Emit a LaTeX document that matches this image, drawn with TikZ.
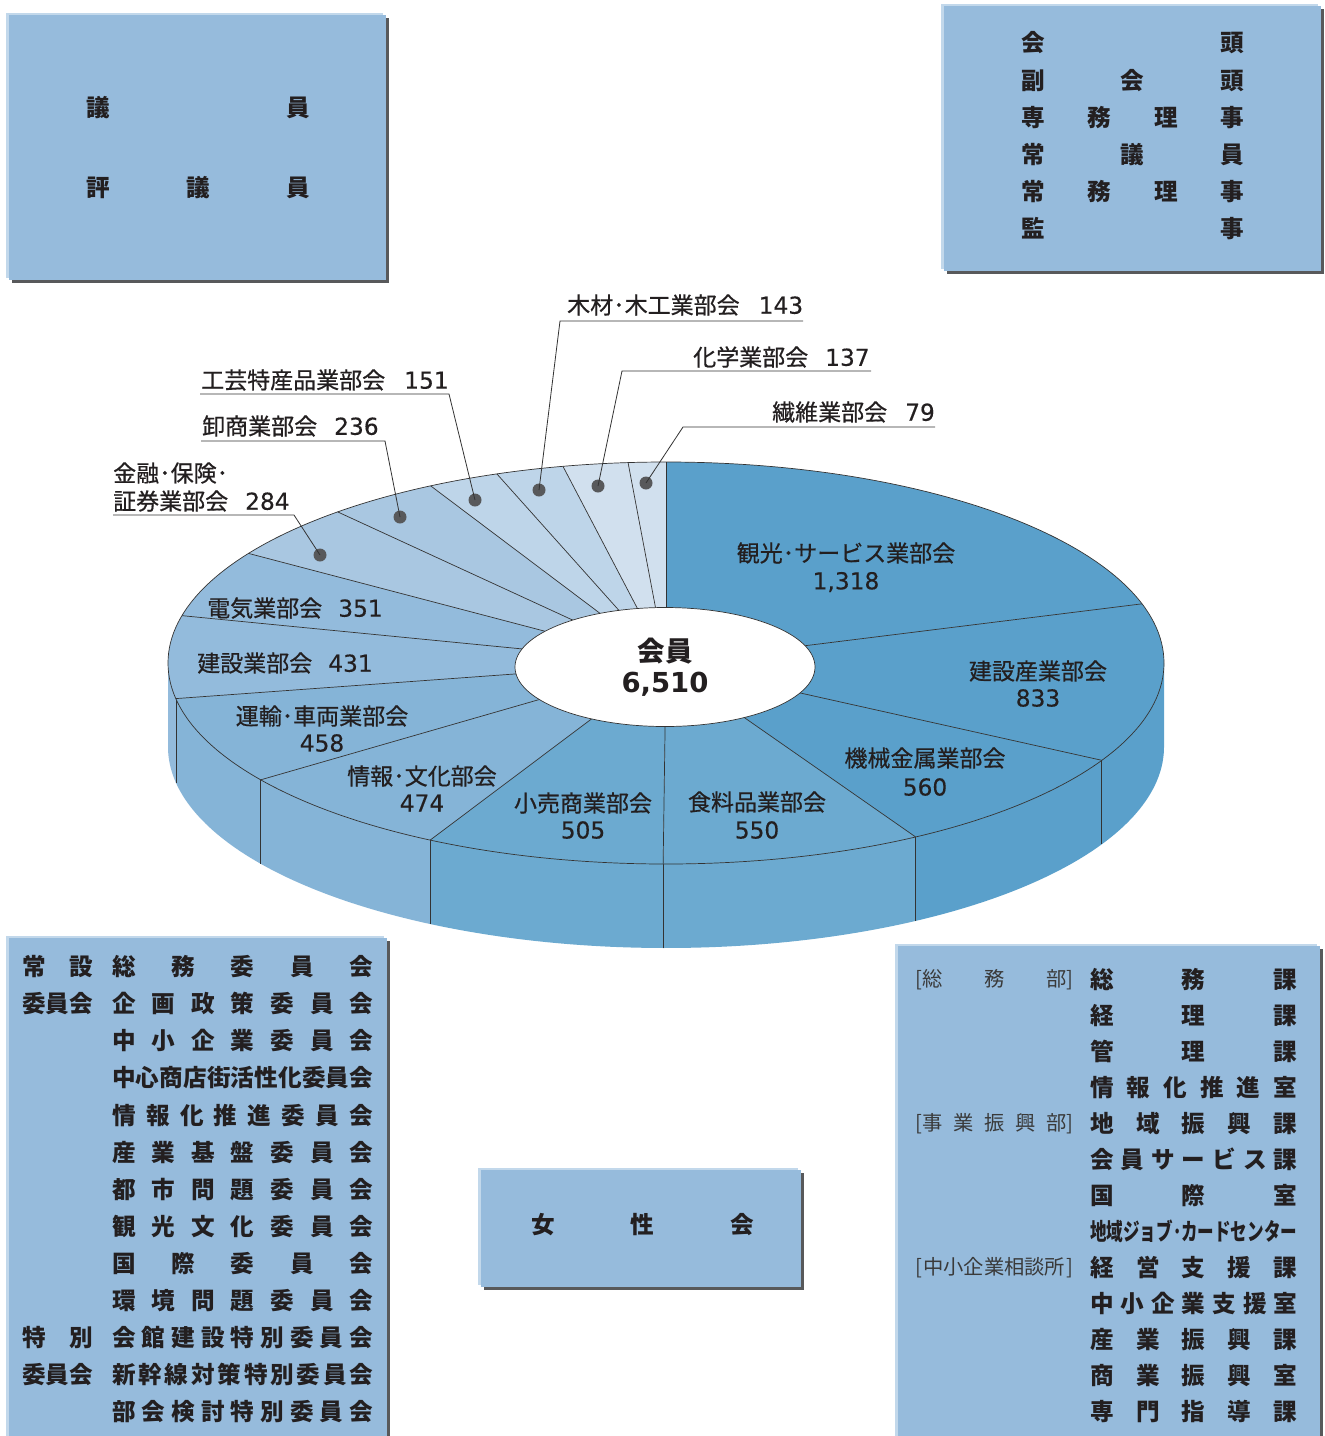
\documentclass[tikz,border=0pt]{standalone}
\usepackage{fontspec}
\usepackage{graphicx}
\usetikzlibrary{shapes.geometric}
\setmainfont{Noto Sans CJK JP}
\newfontfamily\jpm{Noto Sans CJK JP}[FakeBold=0.6]
\newfontfamily\numf{DejaVu Sans}[FakeBold=0.3]
\newfontfamily\numb{DejaVu Sans Bold}
\definecolor{boxfill}{HTML}{96BBDC}
\definecolor{boxlight}{HTML}{C2D8EB}
\definecolor{boxshadow}{HTML}{58595B}
\definecolor{cA}{HTML}{5AA0CB}
\definecolor{cB}{HTML}{6CAAD0}
\definecolor{cC}{HTML}{85B4D7}
\definecolor{cD}{HTML}{93BBDC}
\definecolor{cE}{HTML}{A9C7E1}
\definecolor{cF}{HTML}{BED5E9}
\definecolor{cG}{HTML}{D1E0EE}
\definecolor{txtc}{HTML}{231F20}
\definecolor{linec}{HTML}{333333}
\definecolor{dotc}{HTML}{58595B}
\definecolor{brc}{HTML}{3A3A3A}
\makeatletter
\def\spr@end{\spr@end}
\def\spr@loop#1{\ifx#1\spr@end\else\hfill#1\expandafter\spr@loop\fi}
\def\spr@first#1{#1\spr@loop}
\newcommand\spread[2]{\hbox to #1{\expandafter\spr@first#2\spr@end}}
\makeatother
\newcommand\lf{\jpm\fontsize{23}{26}\selectfont}
\newcommand\nf{\numf\fontsize{23.3}{26}\selectfont}
\newcommand\bxf{\bfseries\fontsize{23.6}{26}\selectfont}
\newcommand\brf{\fontsize{20.3}{24}\selectfont\color{brc}}
\newcommand\panel[4]{%
  \fill[boxshadow] ({#1+2.5},{#2+3}) rectangle ({#3+2.5},{#4+3});
  \fill[boxlight] ({#1-3},{#2-2.5}) rectangle ({#3-3},{#4-2.5});
  \fill[boxfill] (#1,#2) rectangle (#3,#4);}
\begin{document}
\begin{tikzpicture}[x=1pt,y=-1pt,
  tx/.style={inner sep=0pt,text=txtc},
  rimline/.style={draw=linec,line width=0.7pt},
  leader/.style={draw=linec,line width=0.8pt},
  dotn/.style={circle,fill=dotc,inner sep=0pt,minimum size=13pt}]
\useasboundingbox (0,0) rectangle (1325,1436);
\fill[white] (0,0) rectangle (1325,1436);
\def\cx{666}\def\cy{663}\def\rx{498}\def\ry{201}\def\hh{84}
% ---------- panels ----------
\panel{9}{15}{386}{280}
\panel{944}{6}{1321}{271}
\panel{9}{938}{387}{1445}
\panel{481}{1170}{801}{1287}
\panel{898}{946}{1320}{1445}
% panel 1
\node[tx,anchor=west] (p1a) at (86,108) {\bxf\spread{223.5pt}{議員}};
\node[tx,anchor=west] (p1b) at (86,188) {\bxf\spread{223.5pt}{評議員}};
% panel 2
\foreach \i/\t in {0/会頭,1/副会頭,2/専務理事,3/常議員,4/常務理事,5/監事}
  \node[tx,anchor=west] (p2-\i) at (1021,{43+37.2*\i}) {\bxf\spread{223pt}{\t}};
% panel 3
\foreach \i/\t in {0/総務委員会,1/企画政策委員会,2/中小企業委員会,3/中心商店街活性化委員会,4/情報化推進委員会,5/産業基盤委員会,6/都市問題委員会,7/観光文化委員会,8/国際委員会,9/環境問題委員会,10/会館建設特別委員会,11/新幹線対策特別委員会,12/部会検討特別委員会}
  \node[tx,anchor=west] (p3r-\i) at (112,{966.7+37.08*\i}) {\bxf\spread{261pt}{\t}};
\foreach \i/\t in {0/常設,1/委員会,10/特別,11/委員会}
  \node[tx,anchor=west] (p3l-\i) at (22,{966.7+37.08*\i}) {\bxf\spread{71pt}{\t}};
% panel 4
\node[tx,anchor=west] (p4) at (531,1225) {\bxf\spread{223pt}{女性会}};
% panel 5
\foreach \i/\t in {0/総務課,1/経理課,2/管理課,3/情報化推進室,4/地域振興課,5/会員サービス課,6/国際室,8/経営支援課,9/中小企業支援室,10/産業振興課,11/商業振興室,12/専門指導課}
  \node[tx,anchor=west] (p5r-\i) at (1090,{980+35.96*\i}) {\bxf\spread{207pt}{\t}};
\node[tx,anchor=west] (p5r-7) at (1090,{980+35.96*7}) {\resizebox{207pt}{\height}{\bxf 地域ジョブ･カードセンター}};
\node[tx,anchor=west] (p5l-0) at (915,980) {\brf\hbox to 158pt{[総\hfill 務\hfill 部]}};
\node[tx,anchor=west] (p5l-4) at (915,{980+35.96*4}) {\brf\hbox to 158pt{[事\hfill 業\hfill 振\hfill 興\hfill 部]}};
\node[tx,anchor=west] (p5l-8) at (915,{980+35.96*8}) {\brf\hbox to 158pt{[\hfil 中小企業相談所\hfil]}};
% ---------- pie: side walls ----------
\foreach \sa/\sb/\col in {90/118.95/cA,118.95/149.92/cA,149.92/180.33/cB,180.33/208.26/cB,208.26/234.47/cC,234.47/259.80/cC,259.80/270/cD}
  \fill[\col] plot[domain=\sa:\sb,samples=30] ({\cx+\rx*sin(\x)},{\cy-\ry*cos(\x)})
     -- plot[domain=\sb:\sa,samples=30] ({\cx+\rx*sin(\x)},{\cy+\hh-\ry*cos(\x)}) -- cycle;
\foreach \tt in {118.95,149.92,180.33,208.26,234.47,259.80}
  \draw[rimline] ({\cx+\rx*sin(\tt)},{\cy-\ry*cos(\tt)}) -- ++(0,\hh);
% ---------- pie: top wedges ----------
\foreach \sa/\sb/\col in {0/72.88/cA,72.88/118.95/cA,118.95/149.92/cA,149.92/180.33/cB,180.33/208.26/cB,208.26/234.47/cC,234.47/259.80/cC,259.80/283.63/cD,283.63/303.04/cD,303.04/318.75/cE,318.75/331.80/cE,331.80/340.15/cF,340.15/348.06/cF,348.06/355.63/cG,355.63/360/cG}
  \fill[\col] (\cx,\cy) -- plot[domain=\sa:\sb,samples=40] ({\cx+\rx*sin(\x)},{\cy-\ry*cos(\x)}) -- cycle;
\foreach \tt in {0,72.88,118.95,149.92,180.33,208.26,234.47,259.80,283.63,303.04,318.75,331.80,340.15,348.06,355.63}
  \draw[rimline] (\cx,\cy) -- ({\cx+\rx*sin(\tt)},{\cy-\ry*cos(\tt)});
\draw[rimline] (\cx,\cy) ellipse [x radius=498pt, y radius=201pt];
\node[draw=linec,line width=0.7pt,fill=white,ellipse,inner sep=0pt,minimum width=300pt,minimum height=119pt] (hole) at (665,667) {};
% ---------- center ----------
\node[tx] (cm1) at (665,651) {\bfseries\fontsize{27.5}{30}\selectfont 会員};
\node[tx] (cm2) at (665,684) {\numb\fontsize{27.5}{30}\selectfont 6,510};
% ---------- slice labels ----------
\node[tx] (l1) at (846,553) {\lf 観光･サービス業部会};
\node[tx] (n1) at (846,582) {\nf 1,318};
\node[tx] (l2) at (1038,671) {\lf 建設産業部会};
\node[tx] (n2) at (1038,698) {\nf 833};
\node[tx] (l3) at (925,758) {\lf 機械金属業部会};
\node[tx] (n3) at (925,787) {\nf 560};
\node[tx] (l4) at (757,802) {\lf 食料品業部会};
\node[tx] (n4) at (757,830) {\nf 550};
\node[tx] (l5) at (583,803) {\lf 小売商業部会};
\node[tx] (n5) at (583,830) {\nf 505};
\node[tx] (l6) at (422,776) {\lf 情報･文化部会};
\node[tx] (n6) at (422,803) {\nf 474};
\node[tx] (l7) at (322,716) {\lf 運輸･車両業部会};
\node[tx] (n7) at (322,743) {\nf 458};
\node[tx] (l8) at (285,663) {\lf 建設業部会\hspace{16pt}\nf 431};
\node[tx] (l9) at (295,608) {\lf 電気業部会\hspace{16pt}\nf 351};
% ---------- outside labels ----------
\node[tx,anchor=west] (o1) at (567,305) {\lf 木材･木工業部会\hspace{19pt}\nf 143};
\node[tx,anchor=west] (o2) at (693,357) {\lf 化学業部会\hspace{17pt}\nf 137};
\node[tx,anchor=west] (o3) at (772,412) {\lf 繊維業部会\hspace{18pt}\nf 79};
\node[tx,anchor=west] (o4) at (201,380) {\lf 工芸特産品業部会\hspace{19pt}\nf 151};
\node[tx,anchor=west] (o5) at (202,426) {\lf 卸商業部会\hspace{17pt}\nf 236};
\node[tx,anchor=west] (o6a) at (113,473) {\lf 金融･保険･};
\node[tx,anchor=west] (o6b) at (113,501) {\lf 証券業部会\hspace{17pt}\nf 284};
\node[dotn] (d1) at (539,490) {};
\node[dotn] (d2) at (598,486) {};
\node[dotn] (d3) at (646,483) {};
\node[dotn] (d4) at (475,500) {};
\node[dotn] (d5) at (400,517) {};
\node[dotn] (d6) at (320,555) {};
\coordinate (u1a) at (560,321); \coordinate (u1b) at (803,321);
\coordinate (u2a) at (622,371); \coordinate (u2b) at (871,371);
\coordinate (u3a) at (683,427); \coordinate (u3b) at (935,427);
\coordinate (u4a) at (200,394); \coordinate (u4b) at (449,394);
\coordinate (u5a) at (201,441); \coordinate (u5b) at (385,441);
\coordinate (u6a) at (113,515); \coordinate (u6b) at (294,515);
\draw[leader] (u1b) -- (u1a) -- (d1.center);
\draw[leader] (u2b) -- (u2a) -- (d2.center);
\draw[leader] (u3b) -- (u3a) -- (d3.center);
\draw[leader] (u4a) -- (u4b) -- (d4.center);
\draw[leader] (u5a) -- (u5b) -- (d5.center);
\draw[leader] (u6a) -- (u6b) -- (d6.center);
\end{tikzpicture}
\end{document}
